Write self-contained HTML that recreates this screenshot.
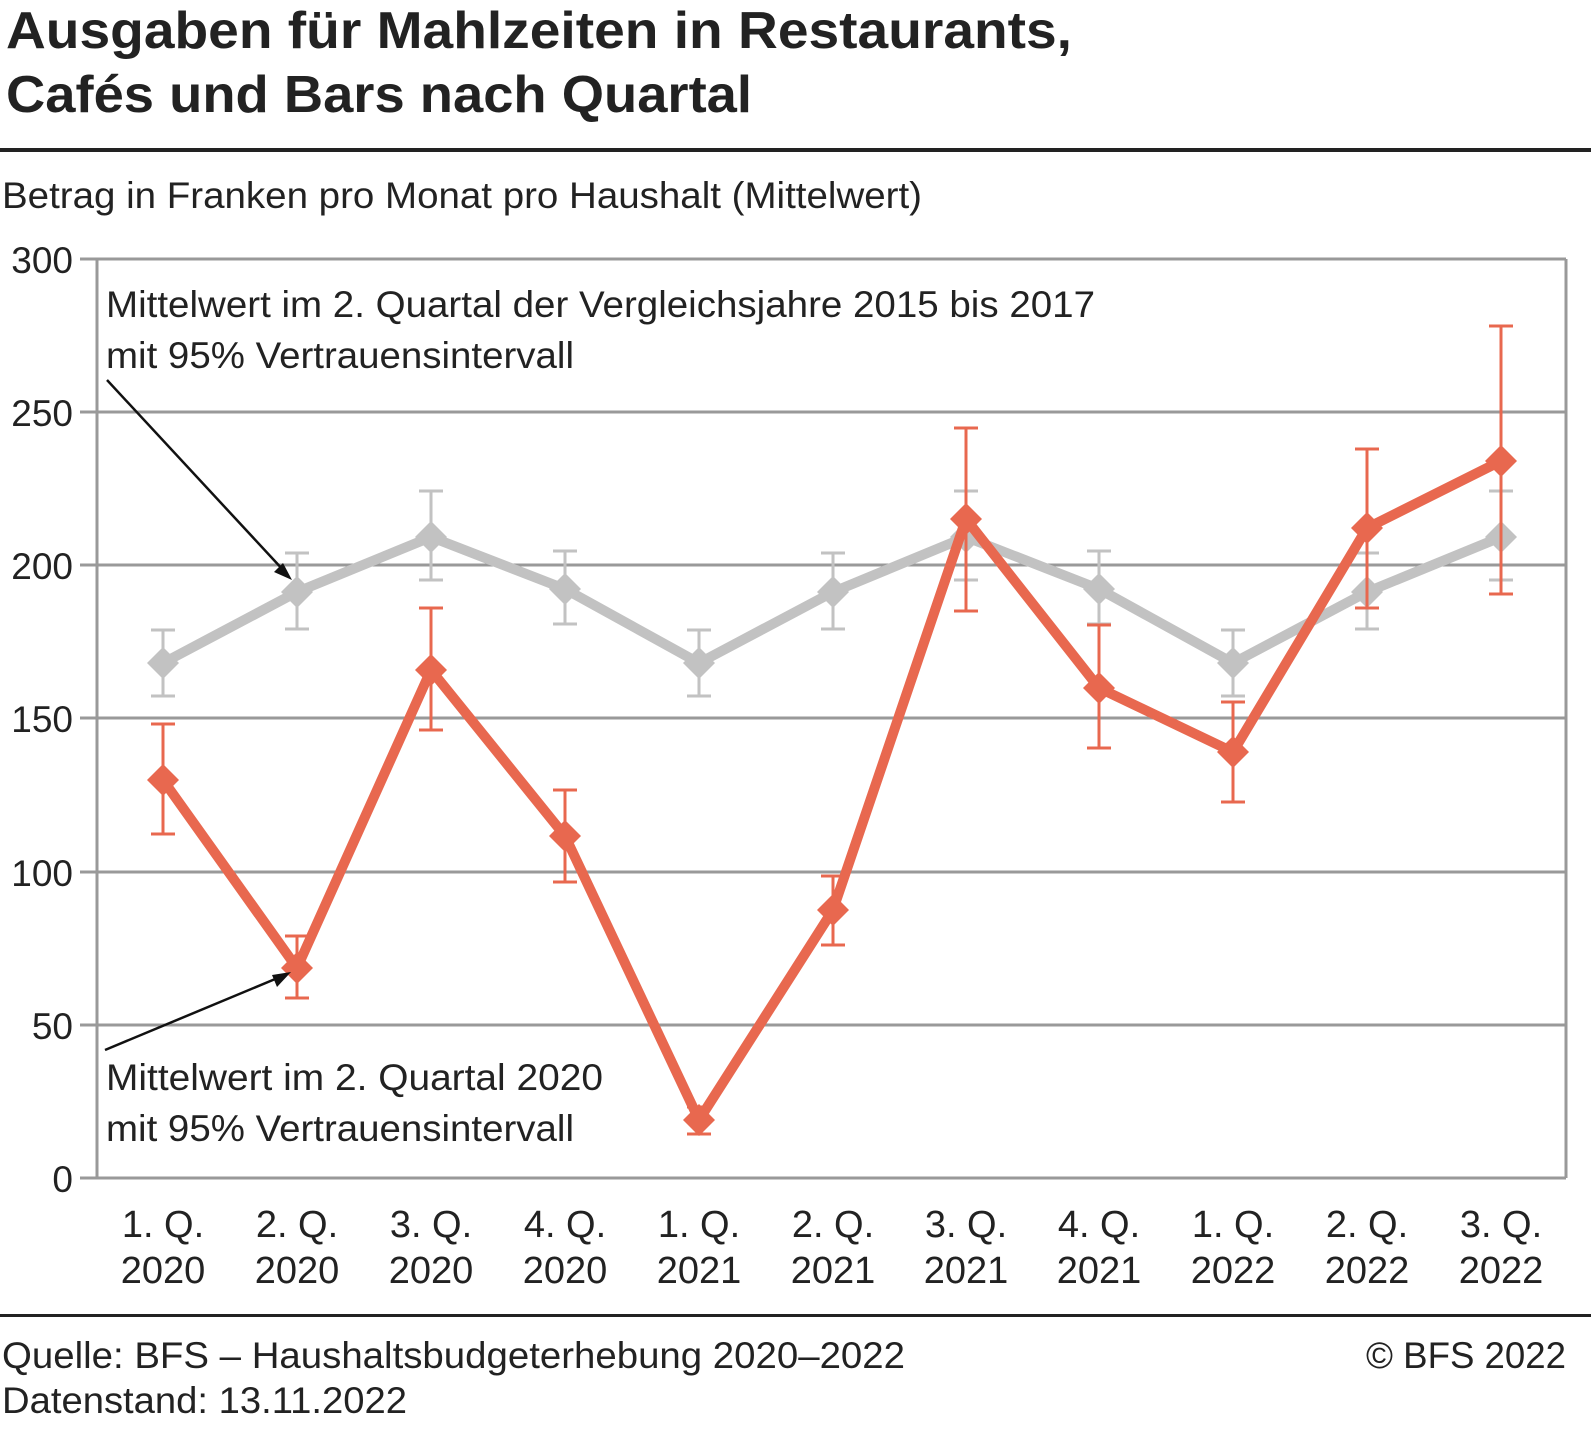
<!DOCTYPE html>
<html><head><meta charset="utf-8"><style>
body{margin:0;background:#fff;}
svg text{font-family:"Liberation Sans",sans-serif;fill:#222;}
</style></head><body>
<svg width="1591" height="1447" viewBox="0 0 1591 1447" xmlns="http://www.w3.org/2000/svg">
<text x="6" y="48" font-size="52" font-weight="bold" textLength="1066" lengthAdjust="spacingAndGlyphs">Ausgaben für Mahlzeiten in Restaurants,</text>
<text x="6" y="112" font-size="52" font-weight="bold" textLength="746" lengthAdjust="spacingAndGlyphs">Cafés und Bars nach Quartal</text>
<rect x="0" y="148" width="1591" height="4" fill="#222"/>
<text x="2" y="208" font-size="37" textLength="920" lengthAdjust="spacingAndGlyphs">Betrag in Franken pro Monat pro Haushalt (Mittelwert)</text>
<g stroke="#999" stroke-width="3">
<line x1="80" y1="259" x2="1566" y2="259"/><line x1="80" y1="412" x2="1566" y2="412"/>
<line x1="80" y1="565" x2="1566" y2="565"/><line x1="80" y1="718" x2="1566" y2="718"/>
<line x1="80" y1="872" x2="1566" y2="872"/><line x1="80" y1="1025" x2="1566" y2="1025"/>
<line x1="80" y1="1178" x2="1566" y2="1178"/>
<line x1="97" y1="259" x2="97" y2="1178"/><line x1="1566" y1="259" x2="1566" y2="1178"/>
</g>
<g font-size="37" text-anchor="end">
<text x="73" y="273">300</text><text x="73" y="426">250</text><text x="73" y="579">200</text>
<text x="73" y="732">150</text><text x="73" y="886">100</text><text x="73" y="1039">50</text><text x="73" y="1192">0</text>
</g>
<g font-size="38" text-anchor="middle">
<text x="163" y="1237">1. Q.</text><text x="163" y="1283">2020</text>
<text x="297" y="1237">2. Q.</text><text x="297" y="1283">2020</text>
<text x="431" y="1237">3. Q.</text><text x="431" y="1283">2020</text>
<text x="565" y="1237">4. Q.</text><text x="565" y="1283">2020</text>
<text x="699" y="1237">1. Q.</text><text x="699" y="1283">2021</text>
<text x="833" y="1237">2. Q.</text><text x="833" y="1283">2021</text>
<text x="966" y="1237">3. Q.</text><text x="966" y="1283">2021</text>
<text x="1099" y="1237">4. Q.</text><text x="1099" y="1283">2021</text>
<text x="1233" y="1237">1. Q.</text><text x="1233" y="1283">2022</text>
<text x="1367" y="1237">2. Q.</text><text x="1367" y="1283">2022</text>
<text x="1501" y="1237">3. Q.</text><text x="1501" y="1283">2022</text>
</g>
<g stroke="#c2c2c2" stroke-width="3" fill="none">
<path d="M163 630V696M151 630H175M151 696H175"/>
<path d="M297 553V629M285 553H309M285 629H309"/>
<path d="M431 491V580M419 491H443M419 580H443"/>
<path d="M565 551V624M553 551H577M553 624H577"/>
<path d="M699 630V696M687 630H711M687 696H711"/>
<path d="M833 553V629M821 553H845M821 629H845"/>
<path d="M966 491V580M954 491H978M954 580H978"/>
<path d="M1099 551V624M1087 551H1111M1087 624H1111"/>
<path d="M1233 630V696M1221 630H1245M1221 696H1245"/>
<path d="M1367 553V629M1355 553H1379M1355 629H1379"/>
<path d="M1501 491V580M1489 491H1513M1489 580H1513"/>
</g>
<polyline fill="none" stroke="#c2c2c2" stroke-width="10" stroke-linejoin="round" points="163,663 297,592 431,537 565,589 699,663 833,592 966,537 1099,589 1233,663 1367,592 1501,537"/>
<g fill="#c2c2c2">
<path d="M163 647l16 16-16 16-16-16z"/><path d="M297 576l16 16-16 16-16-16z"/><path d="M431 521l16 16-16 16-16-16z"/>
<path d="M565 573l16 16-16 16-16-16z"/><path d="M699 647l16 16-16 16-16-16z"/><path d="M833 576l16 16-16 16-16-16z"/>
<path d="M966 521l16 16-16 16-16-16z"/><path d="M1099 573l16 16-16 16-16-16z"/><path d="M1233 647l16 16-16 16-16-16z"/>
<path d="M1367 576l16 16-16 16-16-16z"/><path d="M1501 521l16 16-16 16-16-16z"/>
</g>
<g stroke="#e8684f" stroke-width="3" fill="none">
<path d="M163 724V834M151 724H175M151 834H175"/>
<path d="M297 936V998M285 936H309M285 998H309"/>
<path d="M431 608V730M419 608H443M419 730H443"/>
<path d="M565 790V882M553 790H577M553 882H577"/>
<path d="M699 1107V1134M687 1107H711M687 1134H711"/>
<path d="M833 876V945M821 876H845M821 945H845"/>
<path d="M966 428V611M954 428H978M954 611H978"/>
<path d="M1099 625V748M1087 625H1111M1087 748H1111"/>
<path d="M1233 702V802M1221 702H1245M1221 802H1245"/>
<path d="M1367 449V608M1355 449H1379M1355 608H1379"/>
<path d="M1501 326V594M1489 326H1513M1489 594H1513"/>
</g>
<polyline fill="none" stroke="#e8684f" stroke-width="10" stroke-linejoin="round" points="163,780 297,968 431,670 565,836 699,1120 833,910 966,519 1099,688 1233,752 1367,528 1501,461"/>
<g fill="#e8684f">
<path d="M163 764l16 16-16 16-16-16z"/><path d="M297 952l16 16-16 16-16-16z"/><path d="M431 654l16 16-16 16-16-16z"/>
<path d="M565 820l16 16-16 16-16-16z"/><path d="M699 1104l16 16-16 16-16-16z"/><path d="M833 894l16 16-16 16-16-16z"/>
<path d="M966 503l16 16-16 16-16-16z"/><path d="M1099 672l16 16-16 16-16-16z"/><path d="M1233 736l16 16-16 16-16-16z"/>
<path d="M1367 512l16 16-16 16-16-16z"/><path d="M1501 445l16 16-16 16-16-16z"/>
</g>
<text x="106" y="317" font-size="37" textLength="989" lengthAdjust="spacingAndGlyphs">Mittelwert im 2. Quartal der Vergleichsjahre 2015 bis 2017</text>
<text x="106" y="368" font-size="37" textLength="468" lengthAdjust="spacingAndGlyphs">mit 95% Vertrauensintervall</text>
<line x1="107" y1="380" x2="285" y2="572" stroke="#111" stroke-width="2.5"/>
<path d="M292 580l-18-8 9-9z" fill="#111"/>
<text x="106" y="1090" font-size="37" textLength="497" lengthAdjust="spacingAndGlyphs">Mittelwert im 2. Quartal 2020</text>
<text x="106" y="1141" font-size="37" textLength="468" lengthAdjust="spacingAndGlyphs">mit 95% Vertrauensintervall</text>
<line x1="105" y1="1050" x2="280" y2="977" stroke="#111" stroke-width="2.5"/>
<path d="M291 972l-14 15-5-12z" fill="#111"/>
<rect x="0" y="1314" width="1591" height="3" fill="#222"/>
<text x="2" y="1368" font-size="37" textLength="903" lengthAdjust="spacingAndGlyphs">Quelle: BFS – Haushaltsbudgeterhebung 2020–2022</text>
<text x="2" y="1413" font-size="37" textLength="405" lengthAdjust="spacingAndGlyphs">Datenstand: 13.11.2022</text>
<text x="1366" y="1368" font-size="37" textLength="200" lengthAdjust="spacingAndGlyphs">© BFS 2022</text>
</svg>
</body></html>
